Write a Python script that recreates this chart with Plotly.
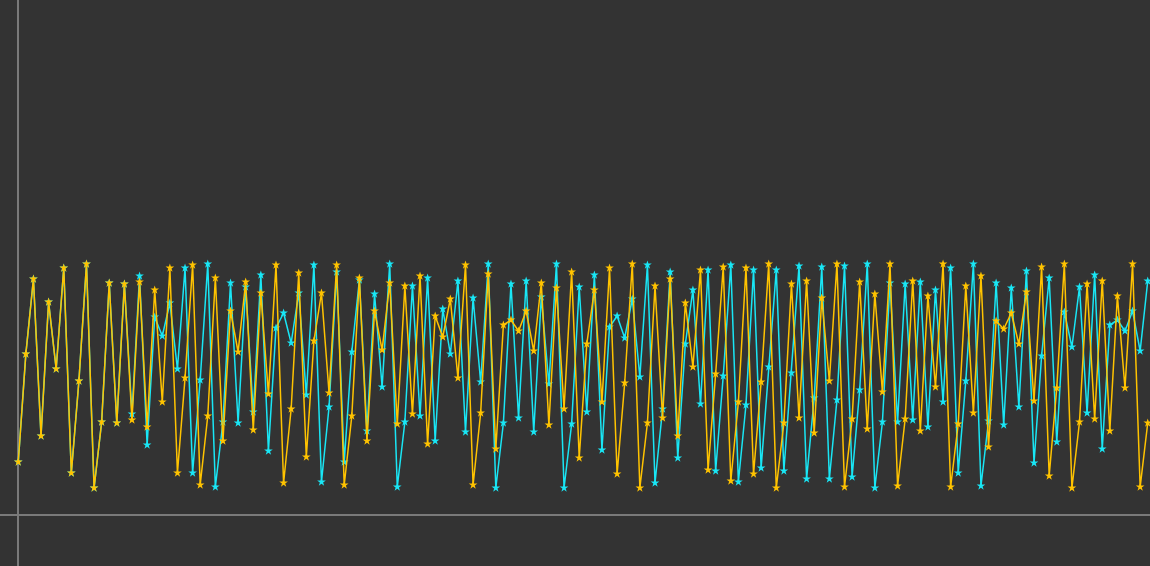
import plotly.graph_objects as go

x_index = list(range(150))

yellow_values = [
    21.2, 64.4, 94.4, 31.6, 85.2, 58.4, 98.8, 16.8, 53.6, 100.4,
    10.8, 37.2, 92.8, 36.8, 92.4, 38.0, 93.2, 35.2, 90.0, 45.2,
    98.8, 16.8, 54.8, 100.0, 12.0, 39.6, 94.8, 29.6, 81.6, 65.2,
    93.2, 34.0, 88.8, 48.4, 100.0, 12.8, 42.4, 96.8, 23.2, 69.6,
    88.8, 48.8, 100.0, 12.0, 39.6, 94.8, 29.6, 81.6, 66.0, 92.8,
    36.4, 91.6, 40.4, 95.6, 28.4, 79.6, 71.2, 86.4, 54.8, 100.0,
    12.0, 40.8, 96.4, 26.4, 76.0, 78.0, 73.6, 81.6, 65.6, 92.8,
    36.0, 90.8, 42.4, 97.2, 22.8, 68.4, 90.0, 45.2, 98.8, 16.4,
    52.8, 100.4, 10.8, 36.8, 91.6, 38.8, 94.4, 31.6, 84.8, 59.2,
    98.0, 18.0, 56.4, 99.2, 13.6, 45.2, 98.8, 16.4, 53.2, 100.4,
    10.8, 36.8, 92.4, 38.8, 93.6, 32.8, 86.8, 53.6, 100.4, 11.2,
    38.4, 93.2, 34.4, 88.4, 49.2, 100.4, 11.6, 38.4, 93.6, 33.6,
    87.6, 51.2, 100.4, 11.2, 36.4, 91.6, 40.8, 95.6, 27.2, 77.6,
    74.4, 80.8, 68.4, 89.2, 45.6, 99.2, 15.6, 50.8, 100.4, 10.8,
    37.2, 92.4, 38.4, 93.6, 33.6, 87.6, 50.8, 100.4, 11.2, 36.8,
]

cyan_values = [
    21.2, 64.4, 94.4, 31.6, 85.2, 58.4, 98.8, 16.8, 53.6, 100.4,
    10.8, 37.2, 92.8, 36.8, 92.4, 40.4, 95.6, 28.0, 79.2, 71.6,
    84.8, 58.4, 98.8, 16.8, 54.0, 100.4, 11.2, 37.2, 92.8, 36.8,
    91.2, 41.2, 96.0, 25.6, 74.8, 80.8, 68.8, 88.8, 48.0, 100.0,
    13.2, 43.2, 97.2, 21.2, 65.2, 94.0, 33.6, 88.4, 51.2, 100.4,
    11.2, 37.2, 91.6, 39.6, 94.8, 29.6, 82.4, 64.4, 93.6, 33.2,
    86.8, 53.2, 100.4, 10.8, 36.8, 92.4, 38.8, 93.6, 33.2, 87.2,
    52.4, 100.4, 10.8, 36.4, 91.2, 41.2, 96.0, 26.0, 75.2, 79.6,
    70.8, 86.4, 55.2, 100.0, 12.8, 42.4, 97.2, 22.8, 68.4, 90.0,
    44.4, 98.0, 17.6, 55.6, 100.0, 13.2, 44.0, 98.0, 18.8, 59.2,
    98.0, 17.6, 56.8, 99.6, 14.4, 46.8, 99.2, 14.4, 46.0, 99.6,
    15.2, 50.0, 100.4, 10.8, 37.2, 92.8, 37.2, 92.4, 38.0, 93.2,
    35.2, 90.0, 45.2, 98.8, 16.8, 53.6, 100.4, 11.6, 37.6, 92.8,
    36.0, 90.8, 43.2, 97.6, 20.8, 63.6, 94.8, 29.2, 81.2, 67.2,
    91.2, 40.8, 96.0, 26.4, 76.0, 78.0, 73.6, 81.6, 65.6, 93.6,
]

CYAN = "#19e6f5"
YELLOW = "#ffc300"
BG = "#333333"
AXIS = "#7a7a7a"

fig = go.Figure()
fig.add_trace(go.Scatter(
    x=x_index, y=cyan_values, mode="lines+markers",
    line=dict(color=CYAN, width=1.5),
    marker=dict(symbol="star", size=6.5, color=CYAN),
    name="series 2",
))
fig.add_trace(go.Scatter(
    x=x_index, y=yellow_values, mode="lines+markers",
    line=dict(color=YELLOW, width=1.5),
    marker=dict(symbol="star", size=6.5, color=YELLOW),
    name="series 1",
))

fig.update_layout(
    width=1150, height=566,
    margin=dict(l=0, r=0, t=0, b=0),
    paper_bgcolor=BG, plot_bgcolor=BG,
    showlegend=False,
    xaxis=dict(range=[-2.41, 149.3], showgrid=False, zeroline=True,
               zerolinecolor=AXIS, zerolinewidth=2,
               showticklabels=False, ticks="", showline=False),
    yaxis=dict(range=[-20.4, 206], showgrid=False, zeroline=True,
               zerolinecolor=AXIS, zerolinewidth=2,
               showticklabels=False, ticks="", showline=False),
)

post = ("document.body.style.margin='0';"
        "document.body.style.padding='0';"
        "document.body.style.overflow='hidden';"
        "document.body.style.background='#333333';")

fig.write_html("out.html", post_script=post,
               config={"displayModeBar": False})
